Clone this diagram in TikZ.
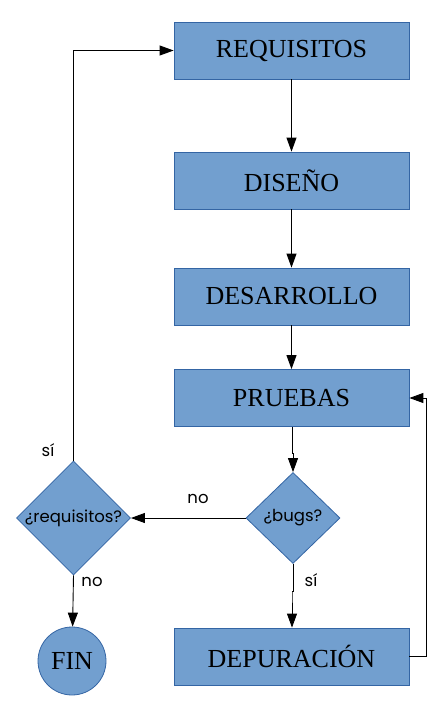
\documentclass[tikz,border=0pt]{standalone}
\usepackage{fontspec}
\setmainfont{Liberation Serif}
\newfontfamily\labfont{Poppins}
\usetikzlibrary{shapes.geometric,arrows.meta}
\definecolor{boxfill}{HTML}{729FCF}
\definecolor{boxline}{HTML}{3465A4}
\begin{document}
\begin{tikzpicture}[x=1pt,y=1pt,
  stepbox/.style={draw=boxline,fill=boxfill,line width=0.8pt,minimum width=235pt,minimum height=57pt,inner sep=0pt,font=\fontsize{26}{30}\selectfont},
  decbox/.style={draw=boxline,fill=boxfill,line width=0.8pt,diamond,inner sep=0pt,minimum width=#1,minimum height=91pt,font=\labfont\fontsize{16.5}{20}\selectfont},
  endbox/.style={draw=boxline,fill=boxfill,line width=0.8pt,circle,minimum size=68pt,inner sep=0pt,font=\fontsize{26}{30}\selectfont},
  conn/.style={draw,line width=0.9pt,-{Triangle[length=14pt,width=10pt]}},
  lab/.style={font=\labfont\fontsize{16.5}{20}\selectfont,inner sep=0pt}]
\useasboundingbox (0,0) rectangle (438,-710);
\node[stepbox] (req) at (291.5,-50.5) {REQUISITOS};
\node[stepbox] (dis) at (291.5,-180.5) {DISEÑO};
\node[stepbox] (des) at (291.5,-296.5) {DESARROLLO};
\node[stepbox] (pru) at (291.5,-398) {PRUEBAS};
\node[stepbox] (dep) at (291.5,-656.5) {DEPURACIÓN};
\node[decbox=94pt] (bugs) at (293,-518) {¿bugs?};
\node[decbox=110pt] (qreq) at (73.5,-518) {¿requisitos?};
\node[endbox] (fin) at (72,-661) {FIN};
\coordinate (c2) at (426,-656.5);
\coordinate (c3) at (426,-398);
\draw[conn] (req) -- (dis);
\draw[conn] (dis) -- (des);
\draw[conn] (des) -- (pru);
\draw[conn] (pru.south -| 292,0) |- (293,-453) -- (bugs.north);
\draw[conn] (bugs) -- (qreq);
\node[lab] (no1) at (198,-499) {no};
\draw[conn] (bugs.south) -- ++(0,-28) -| (292,-592) -- (dep.north -| 292,0);
\node[lab] (si2) at (311,-580) {sí};
\draw[conn] (qreq.north) |- (req.west);
\node[lab] (si1) at (48,-450) {sí};
\draw[conn] (qreq.south) -- (fin);
\node[lab] (no2) at (92,-582) {no};
\draw[conn] (dep.east) -- (c2) -- (c3) -- (pru.east);
\end{tikzpicture}
\end{document}
